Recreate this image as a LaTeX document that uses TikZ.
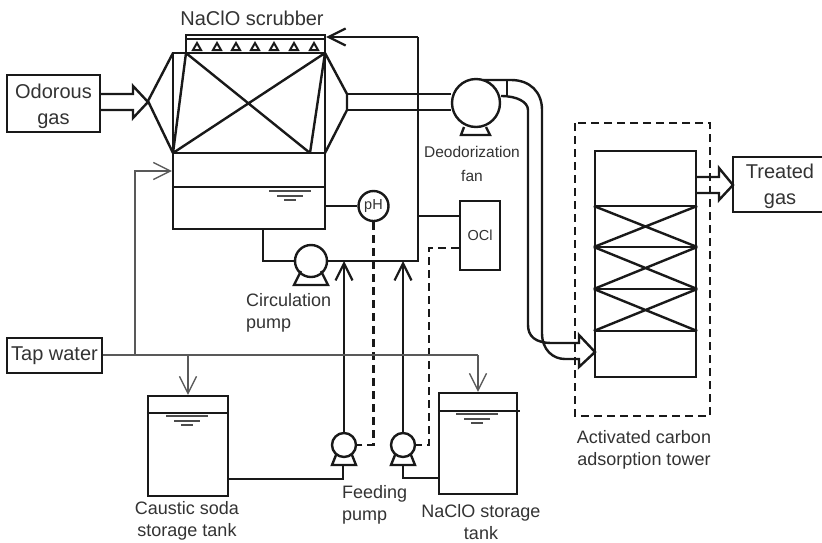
\documentclass[tikz,border=0pt]{standalone}
\usepackage{fontspec}
\setmainfont{Liberation Sans}
\usetikzlibrary{arrows.meta,positioning,calc}
\tikzset{
  pipe/.style={line width=2.4pt,black!90},
  duct/.style={line width=2.4pt,black!90,line join=miter},
  water/.style={line width=1.3pt,black!65},
  waterin/.style={line width=1.3pt,black!65,-{Straight Barb[length=17pt,width=17pt,line width=1.3pt]}},
  feed/.style={line width=2.4pt,black!90,-{Straight Barb[length=17pt,width=17pt,line width=2.2pt]}},
  signal/.style={line width=2.4pt,black!90,dash pattern=on 8pt off 5pt},
  hline/.style={line width=1.3pt,black!70},
  box/.style={rectangle,draw=black!90,line width=2.4pt,inner sep=0pt,align=center,text=black!80},
  pumpc/.style={circle,draw=black!90,line width=2.4pt,fill=white,inner sep=0pt},
  lab/.style={text=black!80,font=\fontsize{18}{22.5}\selectfont,inner sep=0pt,align=center},
  labbig/.style={font=\fontsize{20}{25.5}\selectfont},
  labsmall/.style={text=black!80,font=\fontsize{15.5}{24.5}\selectfont,inner sep=0pt,align=center},
  labtiny/.style={font=\fontsize{14.5}{14.5}\selectfont,text=black!80}
}
\newcommand{\watermark}[2]{% level marks of a tank
  \draw[hline] (#1-21,#2) -- (#1+21,#2);
  \draw[hline] (#1-13,#2+5) -- (#1+13,#2+5);
  \draw[hline] (#1-6,#2+9) -- (#1+6,#2+9);
}
\newcommand{\nozzle}[1]{\draw[line width=2pt,black!90] (#1-4,50) -- (#1,43) -- (#1+4,50) -- cycle;}
\begin{document}
\begin{tikzpicture}[x=1pt,y=-1pt]
  \useasboundingbox (0,0) rectangle (822,542);
  \clip (0,0) rectangle (822,542);
  \fill[white] (0,0) rectangle (822,542);
  % end boxes
  \node[box,labbig,minimum width=93pt,minimum height=57pt] (odor) at (53.5,103.5) {\rule{0pt}{20pt}Odorous\\gas};
  \node[box,labbig,minimum width=95pt,minimum height=35pt] (tap) at (54.5,355.5) {Tap water};
  \node[box,labbig,minimum width=94pt,minimum height=55pt] (treated) at (780,184.5) {\rule{0pt}{18pt}Treated\\gas};
  % scrubber
  \node[box,minimum width=152pt,minimum height=100pt] (bed) at (249,103) {};
  \node[box,minimum width=139pt,minimum height=18pt] (spray) at (255.5,44) {};
  \node[box,minimum width=152pt,minimum height=76pt] (sump) at (249,191) {};
  \draw[pipe] (sump.west |- 0,187) -- (sump.east |- 0,187);
  \draw[pipe] (186,39) -- (325,39);
  \draw[pipe] (186,53) -- (173,153) (186,53) -- (310,153) (325,53) -- (173,153) (325,53) -- (310,153);
  \draw[duct] (173,53) -- (148,101) -- (173,153);
  \draw[duct] (325,53) -- (347,94) -- (347,110) -- (325,153);
  \foreach \nx in {197,217,236,255,274,294,314} {\nozzle{\nx}}
  \watermark{290}{191}
  \node[lab,labbig] (scrub) at (252,18) {NaClO scrubber};
  % inlet
  \draw[duct] (odor.east |- 0,94) -- (133,94) -- (133,86) -- (148,102) -- (133,118) -- (133,110) -- (odor.east |- 0,110);
  % fan
  \node[pumpc,minimum size=48pt] (fan) at (476,103) {};
  \draw[duct] (347,94) -- (fan.west |- 0,94) (347,110) -- (fan.west |- 0,110);
  \draw[duct] (464,127) -- (461,135) -- (490,135) -- (486,127);
  \draw[duct] (483,80) -- (511,80) .. controls (530,80) and (542,92) .. (542,110) -- (542,333)
    .. controls (542,350) and (553,359) .. (565,359) -- (579,359) -- (579,367) -- (595,352) -- (579,335) -- (579,343) -- (552,343)
    .. controls (535,343) and (528,336) .. (528,325) -- (528,110) .. controls (528,102) and (517,96) .. (501,96);
  \draw[duct] (507,80) -- (507,96);
  \node[labsmall] (fanlab) at (472,164) {Deodorization\\fan};
  % circulation
  \node[pumpc,minimum size=32pt] (circ) at (311,261) {};
  \node[pumpc,labtiny,minimum size=30pt] (ph) at (373.5,206) {pH};
  \node[box,labtiny,minimum width=40pt,minimum height=69pt] (ocl) at (480,235.5) {OCl};
  \coordinate (top) at (418,37);
  \coordinate (corner) at (418,261);
  \draw[pipe] (263,229) -- (263,261) -- (circ.west);
  \draw[pipe] (circ.east) -- (corner) -- (top);
  \draw[feed] (top) -- (spray.east |- top);
  \draw[pipe] (sump.east |- ph) -- (ph);
  \draw[pipe] (418,216) -- (ocl.west |- 0,216);
  \draw[duct] (301,271) -- (294,285) -- (328,285) -- (321,271);
  \node[lab,align=left,anchor=north west] (circlab) at (246,293) {Circulation\\pump};
  % tanks
  \node[box,minimum width=80pt,minimum height=100pt] (soda) at (188,446) {};
  \node[box,minimum width=78pt,minimum height=101pt] (clo) at (478,443.5) {};
  \draw[pipe] (soda.west |- 0,413) -- (soda.east |- 0,413);
  \draw[pipe] (clo.west |- 0,411) -- (520,411);
  \watermark{187}{416}
  \watermark{477}{414}
  \node[lab] (sodalab) at (187,521) {Caustic soda\\storage tank};
  \node[lab] (clolab) at (481,522) {NaClO storage\\tank};
  % feeding pumps
  \node[pumpc,minimum size=24pt] (feeda) at (344,445) {};
  \node[pumpc,minimum size=24pt] (feedb) at (403,445) {};
  \draw[duct] (336,455) -- (332,465) -- (356,465) -- (352,455);
  \draw[duct] (395,455) -- (391,465) -- (415,465) -- (411,455);
  \draw[pipe] (soda.east |- 0,479) -- (343,479) -- (343,465);
  \draw[pipe] (clo.west |- 0,478) -- (403,478) -- (403,465);
  \draw[feed] (feeda.north) -- (feeda.north |- corner);
  \draw[feed] (feedb.north) -- (feedb.north |- corner);
  \node[lab,align=left,anchor=north west] (feedlab) at (342,485) {Feeding\\pump};
  % signals
  \draw[signal] (ph.south) -- (ph.south |- feeda.east) -- (feeda.east);
  \draw[signal] (ocl.west |- 0,248) -- (429,248) -- (429,445) -- (feedb.east);
  % tap water
  \coordinate (wa) at (135,355);
  \coordinate (wb) at (188,355);
  \coordinate (wc) at (478,355);
  \draw[water] (tap.east |- wa) -- (wc);
  \draw[waterin] (wa) -- (135,171) -- (sump.west |- 0,171);
  \draw[waterin] (wb) -- (soda.north);
  \draw[waterin] (wc) -- (clo.north);
  % carbon tower
  \node[box,minimum width=101pt,minimum height=226pt] (tower) at (645.5,264) {};
  \foreach \ly/\lz in {206/247,247/289,289/331} {
    \draw[pipe] (tower.west |- 0,\ly) -- (tower.east |- 0,\ly);
    \draw[pipe] (tower.west |- 0,\ly) -- (tower.east |- 0,\lz) (tower.east |- 0,\ly) -- (tower.west |- 0,\lz);
  }
  \draw[pipe] (tower.west |- 0,331) -- (tower.east |- 0,331);
  \draw[signal] (575,123) rectangle (710,416);
  \node[lab] (towerlab) at (644,450) {Activated carbon\\adsorption tower};
  % outlet
  \draw[duct] (tower.east |- 0,177) -- (719,177) -- (719,168) -- (733,185) -- (719,200) -- (719,193) -- (tower.east |- 0,193);
\end{tikzpicture}
\end{document}
